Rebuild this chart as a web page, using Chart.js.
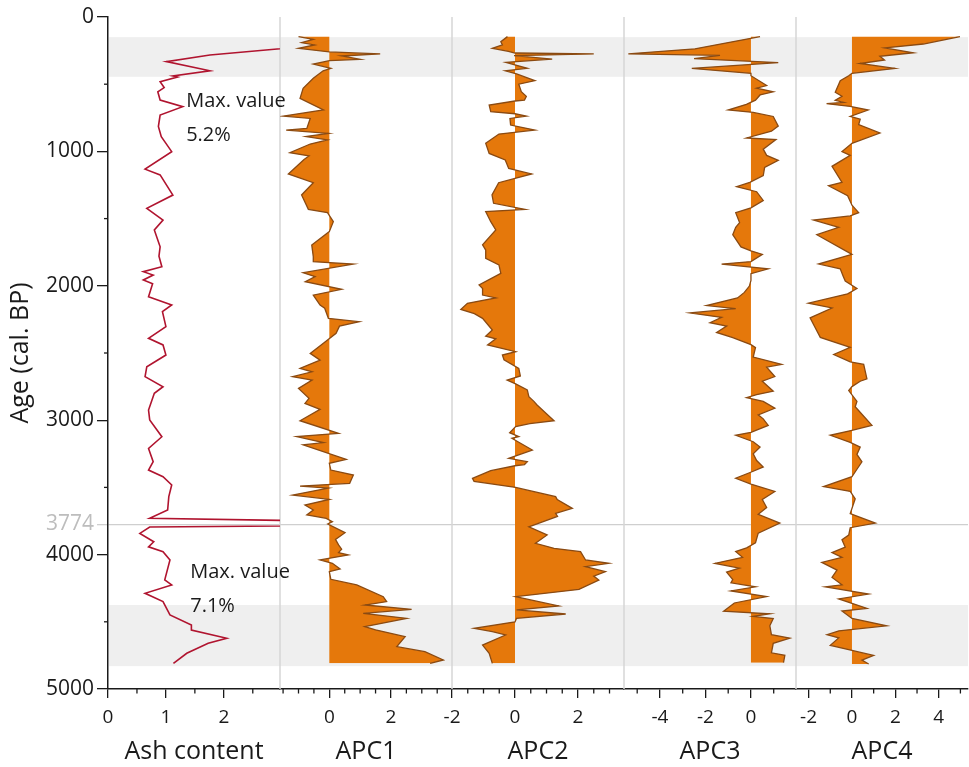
<!DOCTYPE html>
<html><head><meta charset="utf-8">
<script src="https://cdn.jsdelivr.net/npm/chart.js@4.4.1/dist/chart.umd.min.js"></script>
<style>html,body{margin:0;padding:0;background:#fff;}#wrap{width:969px;height:767px;position:relative;}</style>
</head><body><div id="wrap"><canvas id="c" width="969" height="767"></canvas></div>
<script>
// ---------- DATA ----------
const panelTitles = ['Ash content', 'APC1', 'APC2', 'APC3', 'APC4'];
const ageTicks = [0, 1000, 2000, 3000, 4000, 5000];
const markerAge = 3774;
const bands = [[150, 445], [4375, 4830]];

const ashAge = [150,283,332,400,439,447,481,525,556,618,667,730,815,890,1002,1132,1175,1325,1424,1511,1585,1710,1780,1858,1895,1920,1957,1985,2081,2143,2192,2304,2391,2440,2515,2602,2676,2751,2800,2924,2998,3123,3210,3309,3371,3420,3482,3569,3668,3730,3774,3795,3842,3904,3942,3978,4040,4188,4226,4288,4350,4449,4524,4561,4623,4660,4734,4809];
const ashValue = [5.2,1.76,1.01,1.76,1.12,1.2,0.9,0.97,0.86,0.9,1.29,0.9,0.87,0.92,1.1,0.64,0.9,1.12,0.67,0.95,0.8,0.9,0.88,0.93,0.61,0.78,0.61,0.77,0.7,1.1,0.94,1.0,0.7,0.95,1.0,0.67,0.64,0.95,0.8,0.7,0.72,0.93,0.7,0.78,0.7,0.95,1.1,1.05,1.03,0.72,7.1,0.72,0.55,0.79,0.7,0.95,1.07,0.98,1.1,0.64,0.95,1.07,1.44,1.44,2.05,1.73,1.36,1.13];

const apc1Age = [146,166,191,208,233,260,275,290,315,325,350,382,400,456,531,605,692,737,755,829,841,866,890,915,945,1010,1034,1060,1168,1233,1324,1431,1456,1523,1597,1696,1783,1821,1838,1902,1932,1969,2026,2069,2143,2167,2242,2267,2300,2354,2416,2503,2553,2614,2640,2676,2701,2763,2837,2875,2919,3004,3098,3122,3167,3184,3291,3321,3371,3408,3470,3490,3505,3557,3589,3631,3668,3705,3730,3755,3772,3837,3887,3928,3960,3985,4003,4040,4065,4107,4127,4184,4226,4313,4350,4375,4407,4437,4474,4536,4560,4611,4685,4722,4784,4809];
const apc1Value = [-1.0,-0.52,-0.9,-0.48,-1.0,0.0,1.65,0.4,1.0,0.0,-0.52,0.05,-0.2,-0.52,-0.85,-0.95,-0.19,-1.49,-0.62,-0.73,-1.4,-0.03,-0.76,-0.06,-0.62,-1.28,-0.66,-0.82,-1.33,-0.52,-0.9,-0.68,-0.06,0.13,0.0,-0.57,-0.52,-0.52,0.78,-0.85,-0.46,-0.78,0.4,-0.52,-0.3,-0.15,-0.03,0.97,0.33,0.22,-0.13,-0.62,-0.3,-0.95,-0.56,-1.19,-0.56,-1.0,-0.66,-0.79,-0.3,-0.95,0.3,-1.06,-0.19,-0.85,0.55,0.0,0.05,0.78,0.66,-0.95,-0.03,-1.19,0.0,-0.79,-0.52,-0.73,-0.1,0.1,-0.05,0.51,0.2,0.3,0.4,0.3,0.62,-0.3,0.1,0.35,0.0,0.05,0.89,1.75,1.86,1.16,2.67,1.1,2.51,1.15,1.5,2.46,2.19,3.1,3.7,3.27];

const apc2Age = [146,184,208,233,255,268,275,288,313,337,382,400,424,474,500,556,590,618,625,655,705,720,737,755,804,841,871,940,1015,1064,1127,1168,1233,1324,1386,1431,1448,1523,1585,1696,1734,1796,1845,1907,1994,2020,2069,2090,2130,2176,2207,2242,2329,2375,2395,2440,2490,2515,2550,2614,2671,2701,2730,2775,2825,2860,2887,3004,3025,3048,3093,3122,3135,3222,3284,3309,3330,3339,3376,3433,3455,3500,3569,3590,3656,3693,3715,3793,3854,3916,3953,3978,4040,4065,4090,4127,4160,4189,4259,4313,4382,4412,4442,4474,4500,4549,4573,4598,4673,4734,4809];
const apc2Value = [-0.24,-0.45,-0.4,-0.72,-0.21,0.0,2.5,-0.03,1.18,-0.29,0.39,-0.31,0.05,0.63,0.12,0.2,0.36,0.3,0.0,-0.82,-0.77,0.0,0.36,-0.16,-0.14,0.63,-0.51,-0.93,-0.82,-0.31,-0.2,0.53,-0.52,-0.73,-0.68,0.32,-0.93,-0.77,-0.61,-1.03,-0.93,-0.93,-0.51,-0.45,-1.14,-1.03,-1.03,-0.61,-1.51,-1.72,-1.29,-1.03,-0.72,-0.93,-0.61,-0.87,0.02,-0.4,-0.35,0.12,0.17,-0.25,0.02,0.39,0.44,0.6,0.7,1.24,0.47,0.02,-0.17,0.12,-0.1,0.55,-0.2,0.39,0.3,0.0,-0.77,-1.35,-1.3,0.02,1.29,1.34,1.82,1.29,1.35,0.44,1.02,0.65,1.24,2.08,2.24,2.98,2.24,2.87,2.5,2.66,2.03,0.02,1.39,0.05,1.61,0.05,0.0,-1.3,-0.72,-0.3,-1.03,-0.82,-0.72];

const apc3Age = [146,237,274,285,310,339,383,419,437,510,530,557,580,619,650,692,710,740,812,850,900,912,983,1030,1067,1120,1180,1230,1263,1300,1365,1420,1456,1530,1565,1620,1711,1740,1766,1820,1838,1874,1910,1960,2002,2049,2090,2147,2170,2202,2235,2275,2300,2347,2385,2438,2460,2530,2584,2605,2675,2710,2784,2810,2832,2860,2911,2960,2990,3039,3090,3112,3160,3200,3250,3300,3348,3380,3432,3475,3530,3590,3650,3700,3766,3840,3912,3950,3977,4020,4065,4100,4130,4185,4210,4240,4270,4312,4360,4421,4440,4460,4476,4530,4596,4621,4660,4731,4749,4804];
const apc3Value = [0.4,-2.46,-5.39,-1.36,-2.5,1.2,-2.6,0.0,0.0,0.69,0.25,0.98,0.4,0.2,-0.2,-1.0,0.1,0.98,1.2,0.9,-0.19,1.1,0.54,0.69,1.2,0.6,0.54,-0.05,-0.63,0.25,0.54,0.0,-0.67,-0.5,-0.67,-0.8,-0.44,0.0,0.5,0.0,-1.29,0.76,0.0,0.0,-0.07,-0.29,-0.59,-1.95,-0.67,-2.68,-1.29,-1.8,-1.07,-1.51,-0.8,0.0,0.2,0.1,1.35,0.69,1.05,0.5,0.98,0.25,-0.19,0.54,1.05,0.32,0.54,0.76,0.0,-0.67,0.1,0.4,0.1,0.25,0.54,0.1,-0.67,0.0,1.05,0.5,0.69,0.32,1.27,0.32,0.2,-0.19,-0.67,-0.37,-1.58,-0.51,-1.07,-0.8,-0.88,0.2,-0.88,0.69,-0.73,-1.2,0.83,0.1,0.98,0.83,0.9,1.71,0.98,0.9,1.49,1.43];

const apc4Age = [146,201,230,266,292,320,346,383,419,437,474,560,590,620,635,645,665,692,740,760,800,863,940,1001,1030,1111,1230,1256,1330,1400,1456,1480,1511,1565,1620,1766,1838,1874,1930,1965,2020,2060,2129,2165,2238,2310,2384,2458,2511,2566,2585,2693,2710,2750,2780,2860,2900,3039,3075,3112,3165,3200,3255,3310,3365,3420,3494,3530,3585,3695,3766,3800,3855,3890,3945,3985,4020,4058,4115,4170,4225,4240,4294,4330,4400,4420,4475,4530,4567,4596,4620,4675,4713,4750,4785,4814];
const apc4Value = [4.98,3.29,1.52,2.83,1.29,1.5,0.37,1.98,0.0,-0.15,-0.54,-0.77,-0.46,-0.77,-0.38,-1.17,-0.08,0.75,-0.08,0.38,0.31,1.29,0.0,-0.46,-0.08,-0.92,-0.46,-1.08,-0.2,0.0,0.31,-0.08,-1.77,-0.61,-1.62,0.0,-1.54,-0.54,-0.4,-0.31,0.23,-0.2,-2.01,-0.92,-1.93,-1.7,-1.46,-0.08,-0.84,-0.08,0.54,0.69,0.38,0.0,-0.15,0.23,0.15,0.92,0.0,-1.0,-0.08,0.38,0.23,0.46,0.23,0.0,-1.31,-0.08,0.15,-0.08,1.08,-0.08,-0.15,-0.46,-0.31,-0.92,-0.46,-1.39,-0.69,-0.92,-0.46,-1.23,0.77,-0.61,0.69,-0.46,0.0,1.6,-0.6,-1.15,-0.61,-1.0,0.0,1.0,0.46,0.77];

// axis ranges of each panel, label step, minor tick step
const panelMin = [0, -1.6, -2.0, -5.58, -2.58];
const panelMax = [2.97, 3.98, 3.46, 1.98, 5.35];
const labelStep = [1, 2, 2, 2, 2];
const minorStep = [0.5, 0.5, 0.5, 1, 1];

const maxNotes = [
  {lines: ['Max. value', '5.2%'], value: 1.35, ages: [625, 880]},
  {lines: ['Max. value', '7.1%'], value: 1.42, ages: [4134, 4388]}
];

// ---------- CHART ----------
const seriesAges = [ashAge, apc1Age, apc2Age, apc3Age, apc4Age];
const seriesValues = [ashValue, apc1Value, apc2Value, apc3Value, apc4Value];
seriesAges.forEach((a, i) => { if (a.length !== seriesValues[i].length) throw new Error('length mismatch ' + i); });

const FONT = "'Open Sans', 'Noto Sans', sans-serif";
Chart.defaults.font.family = FONT;
Chart.defaults.color = '#1a1a1a';
const INK = '#1a1a1a';
const xIds = ['xAsh', 'x1', 'x2', 'x3', 'x4'];

const scales = {
  y: {
    type: 'linear', min: 0, max: 5000, reverse: true, position: 'left',
    afterBuildTicks: s => { s.ticks = ageTicks.concat([markerAge]).sort((a, b) => a - b).map(v => ({value: v})); },
    afterFit: s => { s.width = 108; },
    ticks: {
      autoSkip: false, padding: 3, font: {size: 21},
      callback: v => String(v),
      color: c => (c.tick && c.tick.value === markerAge) ? '#bdbdbd' : INK
    },
    grid: {
      drawOnChartArea: true, drawTicks: true, tickLength: 11, lineWidth: 1.3,
      color: c => (c.tick && c.tick.value === markerAge) ? '#cfcfcf' : 'rgba(0,0,0,0)',
      tickColor: c => (c.tick && c.tick.value === markerAge) ? '#cfcfcf' : INK
    },
    border: {display: true, color: INK, width: 1.5},
    title: {display: true, text: 'Age (cal. BP)', font: {size: 25}, color: INK, padding: {top: 6, bottom: 0}}
  }
};
xIds.forEach((id, i) => {
  scales[id] = {
    type: 'linear', position: 'bottom', stack: 'panels', stackWeight: 1,
    min: panelMin[i], max: panelMax[i],
    afterFit: s => { s.height = 78; },
    ticks: {stepSize: labelStep[i], includeBounds: false, autoSkip: false, maxRotation: 0, font: {size: 19}, padding: 8, color: INK,
      callback: v => String(v)},
    grid: {drawOnChartArea: false, drawTicks: true, tickLength: 9, color: INK, lineWidth: 1.3},
    border: {display: true, color: INK, width: 1.5},
    title: {display: true, text: panelTitles[i], font: {size: 25}, color: INK, padding: {top: 0, bottom: 0}}
  };
});

const datasets = seriesValues.map((vals, i) => ({
  label: panelTitles[i],
  data: vals.map((v, k) => ({x: v, y: seriesAges[i][k]})),
  xAxisID: xIds[i], yAxisID: 'y',
  borderColor: i === 0 ? '#b0142f' : '#8a4a12',
  borderWidth: i === 0 ? 1.6 : 1.3,
  backgroundColor: i === 0 ? 'rgba(0,0,0,0)' : '#e5780b',
  fill: i === 0 ? false : 'origin',
  pointRadius: 0, tension: 0
}));

const panelPlugin = {
  id: 'panels',
  beforeDatasetsDraw(chart) {
    const {ctx, chartArea: a, scales: sc} = chart;
    ctx.save();
    ctx.fillStyle = '#efefef';
    bands.forEach(([s, e]) => {
      const y1 = sc.y.getPixelForValue(s), y2 = sc.y.getPixelForValue(e);
      ctx.fillRect(a.left + 1, y1, a.right - a.left - 1, y2 - y1);
    });
    ctx.strokeStyle = '#d6d6d6'; ctx.lineWidth = 1.5;
    xIds.slice(1).forEach(id => {
      const x = sc[id].left;
      ctx.beginPath(); ctx.moveTo(x, a.top); ctx.lineTo(x, a.bottom); ctx.stroke();
    });
    ctx.restore();
  },
  beforeDatasetDraw(chart, args) {
    if (args.index !== 0) return;
    const s = chart.scales.xAsh, a = chart.chartArea, ctx = chart.ctx;
    ctx.save(); ctx.beginPath(); ctx.rect(s.left, a.top - 5, s.right - s.left, a.bottom - a.top + 10); ctx.clip();
  },
  afterDatasetDraw(chart, args) {
    if (args.index === 0) chart.ctx.restore();
  },
  afterDraw(chart) {
    const {ctx, chartArea: a, scales: sc} = chart;
    ctx.save();
    ctx.strokeStyle = INK; ctx.lineWidth = 1.3;
    xIds.forEach((id, i) => {
      const s = sc[id], st = minorStep[i], mj = labelStep[i];
      for (let k = Math.ceil(s.min / st - 1e-9); k * st <= s.max + 1e-9; k++) {
        const v = k * st;
        if (Math.abs(v / mj - Math.round(v / mj)) < 1e-6) continue;
        const x = s.getPixelForValue(v);
        ctx.beginPath(); ctx.moveTo(x, a.bottom); ctx.lineTo(x, a.bottom + 4.5); ctx.stroke();
      }
    });
    for (let v = 500; v < 5000; v += 1000) {
      const y = sc.y.getPixelForValue(v);
      ctx.beginPath(); ctx.moveTo(a.left - 4, y); ctx.lineTo(a.left, y); ctx.stroke();
    }
    ctx.fillStyle = INK; ctx.font = '20px ' + FONT; ctx.textAlign = 'left'; ctx.textBaseline = 'middle';
    maxNotes.forEach(n => {
      const x = sc.xAsh.getPixelForValue(n.value);
      n.lines.forEach((t, j) => ctx.fillText(t, x, sc.y.getPixelForValue(n.ages[j])));
    });
    ctx.restore();
  }
};

new Chart(document.getElementById('c'), {
  type: 'line',
  data: {datasets},
  options: {
    indexAxis: 'y', responsive: false, animation: false,
    layout: {padding: {top: 17, right: 1, left: 0, bottom: 0}},
    plugins: {legend: {display: false}, tooltip: {enabled: false}},
    scales
  },
  plugins: [panelPlugin]
});
</script></body></html>
